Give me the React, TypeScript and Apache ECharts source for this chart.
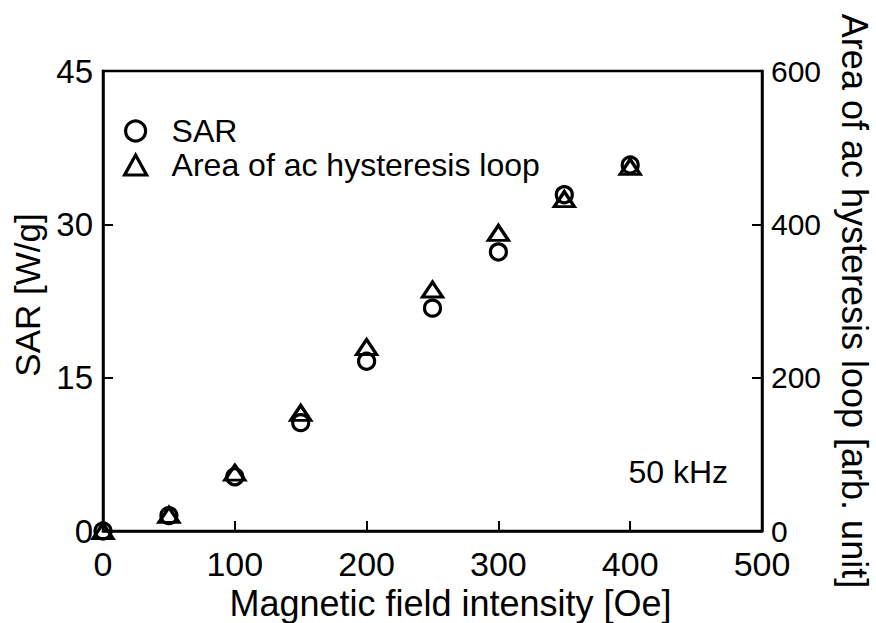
import React, { useEffect, useRef } from "react";
import * as echarts from "echarts";

// Magnetic field intensity [Oe]
const fieldOe = [0, 50, 100, 150, 200, 250, 300, 350, 400];
// Specific absorption rate [W/g]
const sarWg = [0, 1.5, 5.3, 10.6, 16.6, 21.8, 27.3, 32.9, 35.8];
// Area of ac hysteresis loop [arb. unit]
const loopArea = [0, 21, 76, 154, 240, 315, 389, 433, 475];

const sarTicks = { min: 0, max: 45, interval: 15 };
const areaTicks = { min: 0, max: 600, interval: 200 };
const fieldTicks = { min: 0, max: 500, interval: 100 };

const FONT = "'Liberation Sans', Arial, Helvetica, sans-serif";

export default function App() {
  const ref = useRef<HTMLDivElement>(null);

  useEffect(() => {
    if (!ref.current) return;
    const chart = echarts.init(ref.current, undefined, { renderer: "svg" });

    const axisLine = { show: true, lineStyle: { color: "#000", width: 2.5 } };
    const axisTick = { show: true, inside: true, length: 10, lineStyle: { color: "#000", width: 2 } };
    const hollow = { color: "transparent", borderColor: "#000", borderWidth: 3.2, opacity: 1 };

    const sarPoints = fieldOe.map((x, i) => [x, sarWg[i]]);
    const areaPoints = fieldOe.map((x, i) => [x, loopArea[i]]);

    chart.setOption({
      animation: false,
      backgroundColor: "#fff",
      textStyle: { fontFamily: FONT, color: "#000" },
      grid: {
        left: 103,
        right: 114,
        top: 71,
        bottom: 92,
        outerBoundsMode: "none",
        containLabel: false,
        show: true,
        borderColor: "#000",
        borderWidth: 2.5,
        backgroundColor: "transparent",
      },
      legend: {
        orient: "vertical",
        left: 118,
        top: 110,
        itemWidth: 22,
        itemHeight: 20,
        itemGap: 2,
        textStyle: { fontSize: 32, color: "#000", fontFamily: FONT, padding: [0, 0, 0, 20] },
        data: [
          { name: "SAR", icon: "circle", itemStyle: hollow },
          { name: "Area of ac hysteresis loop", icon: "triangle", itemStyle: hollow },
        ],
      },
      xAxis: {
        type: "value",
        ...fieldTicks,
        name: "Magnetic field intensity [Oe]",
        nameLocation: "middle",
        nameGap: 48,
        nameTextStyle: { fontSize: 36, color: "#000", fontFamily: FONT, padding: [0, 0, 0, 36] },
        axisLine,
        axisTick,
        splitLine: { show: false },
        axisLabel: { fontSize: 34, color: "#000", margin: 16, fontFamily: FONT },
      },
      yAxis: [
        {
          type: "value",
          position: "left",
          ...sarTicks,
          name: "SAR [W/g]",
          nameLocation: "middle",
          nameGap: 58,
          nameTextStyle: { fontSize: 35, color: "#000", fontFamily: FONT, padding: [0, 0, 0, 12] },
          axisLine,
          axisTick,
          splitLine: { show: false },
          axisLabel: { fontSize: 33, color: "#000", margin: 10, fontFamily: FONT },
        },
        {
          type: "value",
          position: "right",
          ...areaTicks,
          name: "Area of ac hysteresis loop [arb. unit]",
          nameLocation: "middle",
          nameRotate: -90,
          nameGap: 74,
          nameTextStyle: { fontSize: 36, color: "#000", fontFamily: FONT },
          axisLine,
          axisTick,
          splitLine: { show: false },
          axisLabel: { fontSize: 30, color: "#000", margin: 9, fontFamily: FONT },
        },
      ],
      series: [
        {
          name: "SAR",
          type: "scatter",
          yAxisIndex: 0,
          symbol: "circle",
          symbolSize: 16,
          itemStyle: hollow,
          data: sarPoints,
          z: 3,
        },
        {
          name: "Area of ac hysteresis loop",
          type: "scatter",
          yAxisIndex: 1,
          symbol: "triangle",
          symbolSize: [20, 15],
          itemStyle: hollow,
          data: areaPoints,
          z: 4,
        },
      ],
      graphic: [
        {
          type: "text",
          x: 728,
          y: 472,
          style: {
            text: "50 kHz",
            font: `32px ${FONT}`,
            fill: "#000",
            align: "right",
            verticalAlign: "middle",
          },
        },
      ],
    });

    return () => chart.dispose();
  }, []);

  return <div ref={ref} style={{ width: 876, height: 623, position: "absolute", left: 0, top: 0 }} />;
}
